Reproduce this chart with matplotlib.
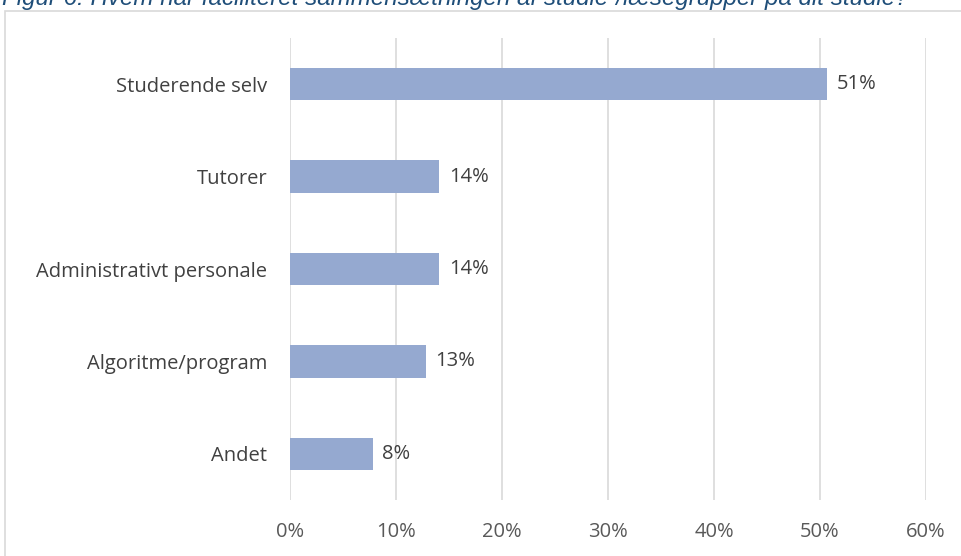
import matplotlib.pyplot as plt
from matplotlib.patches import Rectangle

categories = ["Studerende selv", "Tutorer", "Administrativt personale", "Algoritme/program", "Andet"]
values = [50.7, 14.1, 14.1, 12.8, 7.8]
labels = ["51%", "14%", "14%", "13%", "8%"]
ticks = [0, 10, 20, 30, 40, 50, 60]

plt.rcParams['font.family'] = ['Open Sans', 'DejaVu Sans']

W, H = 962, 556
fig = plt.figure(figsize=(W / 100, H / 100), dpi=100)

# chart frame
fig.patches.append(Rectangle((5 / W, -0.01), 1.0, 1 - 11 / H + 0.01, transform=fig.transFigure,
                             fill=False, edgecolor='#d9d9d9', linewidth=1.2))

# title, partially cut off at top like in the source
fig.text(2 / W, 1 + 2 / H, "Figur 6: Hvem har faciliteret sammensætningen af studie-/læsegrupper på dit studie?",
         fontsize=17.4, style='italic', color='#1f4e79', va='center', ha='left',
         family=['Liberation Sans', 'DejaVu Sans'])

ax = fig.add_axes([290 / W, 1 - 500 / H, (926 - 290) / W, (500 - 38) / H])
y = list(range(len(categories)))
ax.barh(y, values, height=0.35, color='#95a9d0', zorder=3)
for yi, v, lab in zip(y, values, labels):
    ax.text(v + 0.9, yi, lab, va='center', ha='left', fontsize=14.5, color='#404040')

ax.set_xlim(0, 60)
ax.set_ylim(len(categories) - 0.5, -0.5)
ax.set_yticks(y)
ax.set_yticklabels(categories, fontsize=14.5, color='#404040')
ax.set_xticks(ticks)
ax.set_xticklabels([f"{t}%" for t in ticks], fontsize=14.5, color='#595959')
ax.tick_params(length=0)
ax.tick_params(axis='y', pad=16.5)
ax.tick_params(axis='x', pad=16)
ax.grid(axis='x', color='#d9d9d9', linewidth=1.2, zorder=0)
for s in ax.spines.values():
    s.set_visible(False)

fig.savefig("out.png", dpi=100)
